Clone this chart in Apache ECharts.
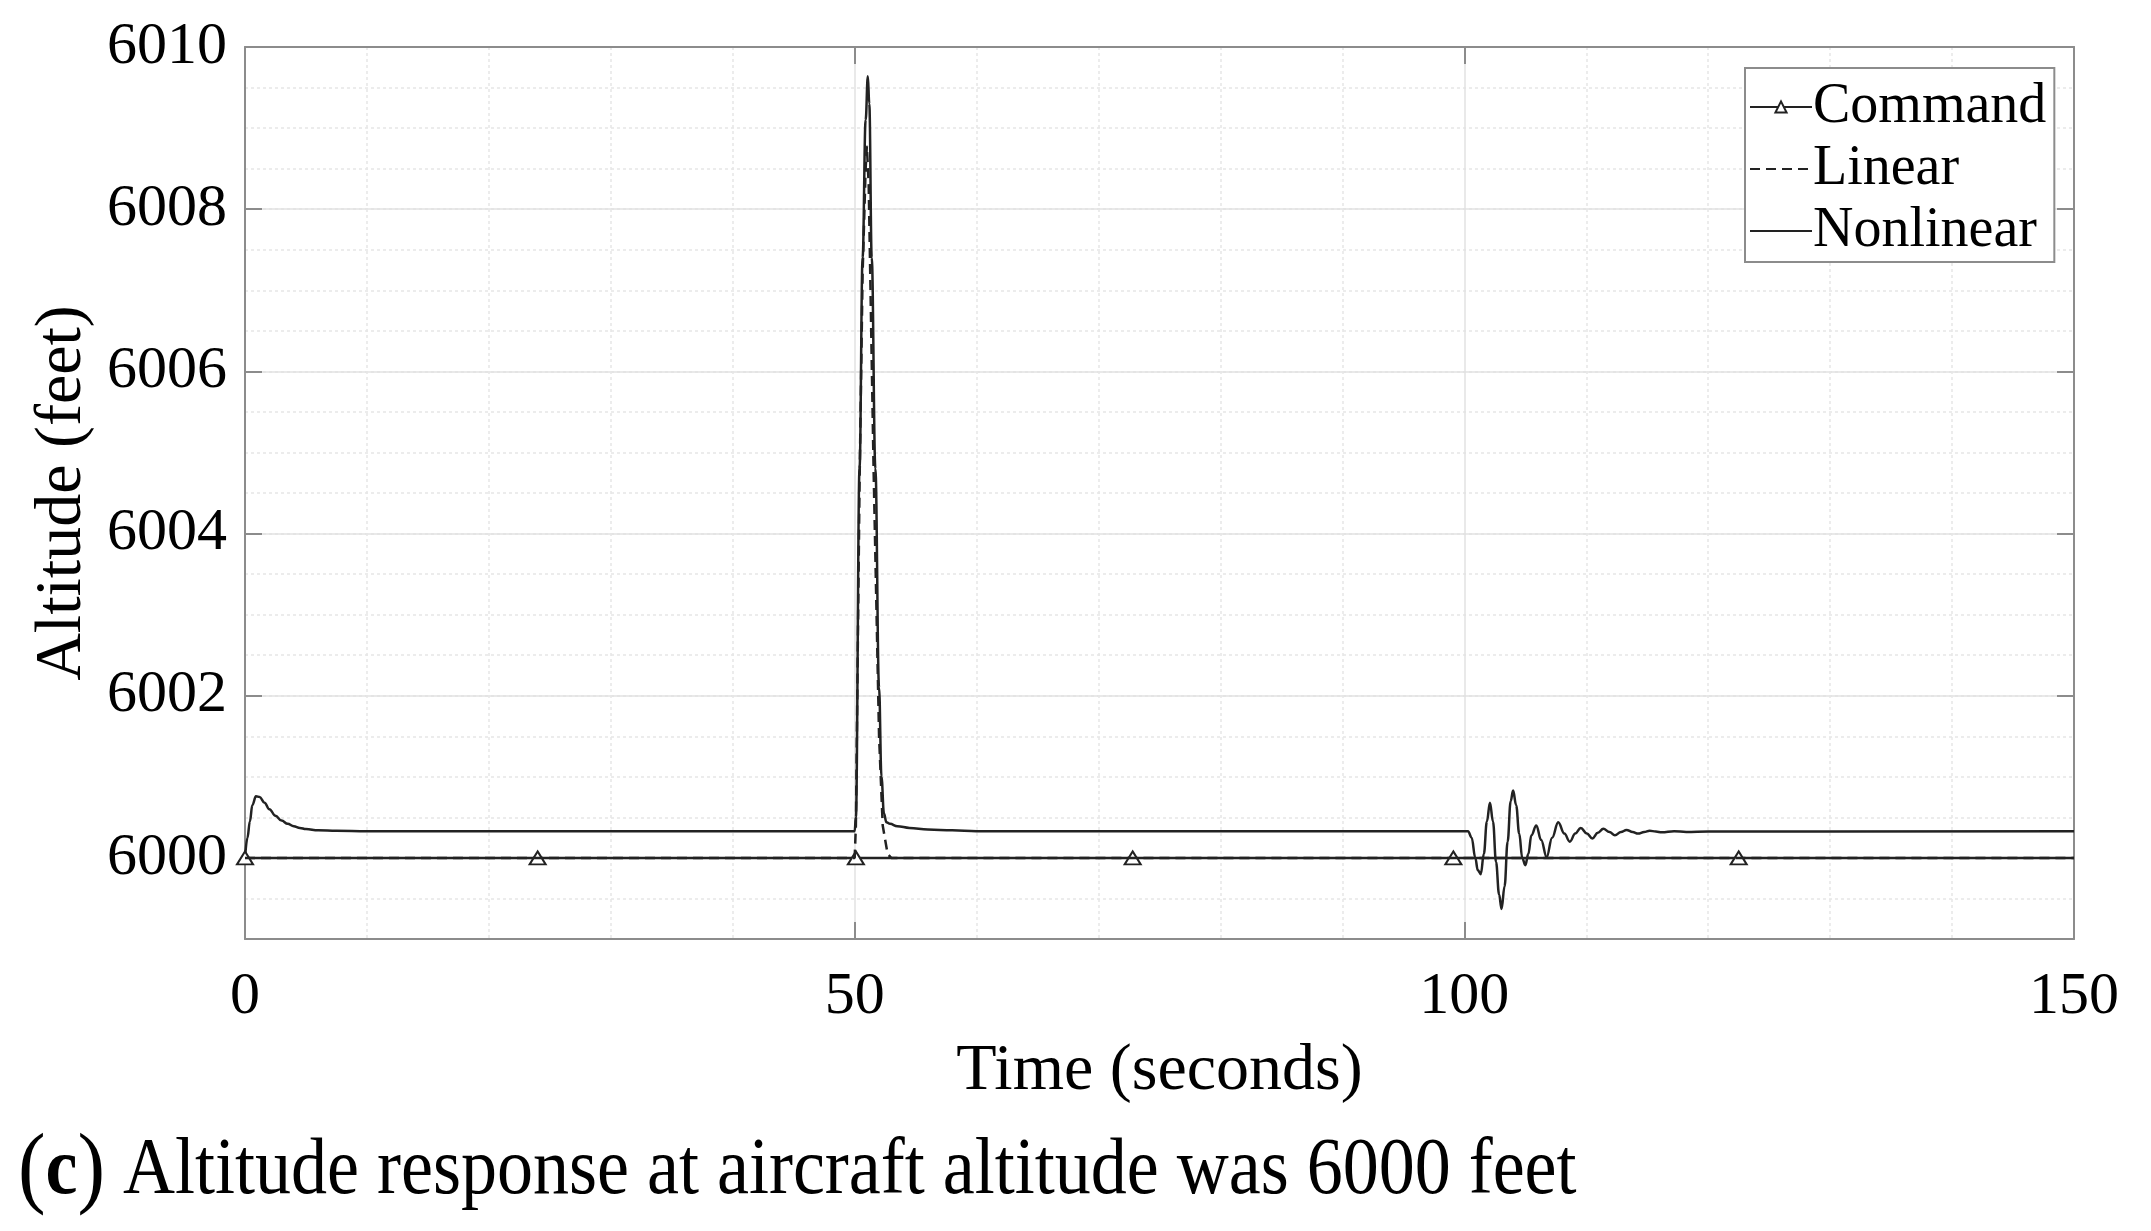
<!DOCTYPE html>
<html>
<head>
    <meta charset="utf-8">
    <title>Altitude response</title>
    <script src="https://cdn.jsdelivr.net/npm/echarts@6/dist/echarts.min.js"></script>
    <style>
        html, body { margin: 0; padding: 0; background: #fff; }
        #chart { width: 2151px; height: 1231px; }
    </style>
</head>
<body>
<div id="chart"></div>
<script type="text/javascript">
    // values (time in seconds, altitude in feet)
    var xTicks = [0, 50, 100, 150];
    var yMajorTicks = [6000, 6002, 6004, 6006, 6008, 6010];

    var commandTime = [0, 24, 50.1, 72.8, 99.1, 122.5, 150];
    var commandAlt = [6000, 6000, 6000, 6000, 6000, 6000, 6000];
    var commandMarker = [true, true, true, true, true, true, false];

    var linearTime = [0, 50.0, 50.1, 50.4, 50.65, 50.9, 51.0, 51.15, 51.55, 52.0, 52.3, 52.7, 53.0, 150];
    var linearAlt = [6000, 6000, 6000.4, 6004.6, 6007.2, 6008.5, 6008.78, 6008.3, 6004.8, 6001.5, 6000.4, 6000.05, 6000, 6000];

    var nonlinearTime = [0, 0.2, 0.4, 0.6, 0.9, 1.2, 1.6, 2.0, 2.5, 3.0, 3.5, 4.0, 4.5, 5.0, 6.0, 7.5, 10,
        50.0, 50.1, 50.4, 50.65, 50.9, 51.08, 51.2, 51.4, 51.7, 52.0, 52.2, 52.4, 52.6, 52.9, 53.5, 54.5, 56, 58, 60,
        100.3, 100.6, 100.9, 101.1, 101.35, 101.6, 101.85, 102.1, 102.35, 102.6, 102.85, 103.05, 103.3, 103.55,
        103.8, 104.0, 104.25, 104.5, 104.75, 105.0, 105.25, 105.5, 105.9, 106.3, 106.75, 107.2, 107.7, 108.2,
        108.65, 109.1, 109.55, 110.05, 110.5, 110.95, 111.4, 111.9, 112.35, 112.85, 113.3, 113.8, 114.25, 114.75,
        115.2, 115.7, 116.2, 117.2, 118.2, 120, 150];
    var nonlinearAlt = [6000, 6000.25, 6000.45, 6000.65, 6000.76, 6000.75, 6000.68, 6000.6, 6000.52, 6000.46, 6000.42, 6000.39, 6000.37, 6000.355, 6000.34, 6000.335, 6000.33,
        6000.33, 6000.5, 6004.8, 6007.4, 6009.1, 6009.64, 6009.3, 6007.4, 6004.8, 6002.1, 6001.0, 6000.55, 6000.44, 6000.42, 6000.39, 6000.37, 6000.35, 6000.34, 6000.33,
        6000.33, 6000.25, 6000.0, 5999.85, 5999.8, 6000.05, 6000.45, 6000.68, 6000.45, 5999.95, 5999.55, 5999.37, 5999.65, 6000.2,
        6000.7, 6000.83, 6000.65, 6000.3, 6000.0, 5999.91, 6000.05, 6000.28, 6000.4, 6000.22, 6000.01, 6000.25, 6000.44, 6000.3,
        6000.2, 6000.3, 6000.37, 6000.3, 6000.24, 6000.31, 6000.36, 6000.32, 6000.28, 6000.32, 6000.345, 6000.32, 6000.3, 6000.32,
        6000.335, 6000.325, 6000.315, 6000.33, 6000.32, 6000.325, 6000.33];

    function pairs(xs, ys) {
        return xs.map(function (x, i) { return [x, ys[i]]; });
    }

    var serif = 'Liberation Serif';
    var axisGray = '#8c8c8c';
    var lineBlack = '#222';

    var myChart = echarts.init(document.getElementById('chart'));

    var commandData = commandTime.map(function (t, i) {
        return commandMarker[i] ? { value: [t, commandAlt[i]] } : { value: [t, commandAlt[i]], symbol: 'none' };
    });

    myChart.setOption({
        animation: false,
        backgroundColor: '#fff',
        grid: { left: 245, right: 77, top: 47, bottom: 292, show: false },
        legend: {
            data: [
                { name: 'Command' },
                { name: 'Linear', itemStyle: { opacity: 0 } },
                { name: 'Nonlinear', itemStyle: { opacity: 0 } }
            ],
            orient: 'vertical',
            left: 1745,
            top: 68,
            padding: [8, 8, 0, 4],
            itemGap: 0,
            itemWidth: 62,
            itemHeight: 14,
            backgroundColor: '#fff',
            borderColor: axisGray,
            borderWidth: 2,
            borderRadius: 0,
            textStyle: { fontFamily: serif, fontSize: 56, color: '#000', lineHeight: 62, padding: [0, 0, 0, -4] }
        },
        xAxis: [{
            type: 'value', min: 0, max: 150, interval: 50, position: 'bottom',
            name: 'Time (seconds)', nameLocation: 'middle', nameGap: 100,
            nameTextStyle: { fontFamily: serif, fontSize: 66, color: '#000' },
            axisLine: { show: true, onZero: false, lineStyle: { color: axisGray, width: 2 } },
            axisTick: { show: true, inside: true, length: 17, lineStyle: { color: axisGray, width: 2 } },
            axisLabel: {
                fontFamily: serif, fontSize: 60, color: '#000', margin: 28,
                formatter: function (v) { return xTicks.indexOf(v) >= 0 ? String(v) : ''; }
            },
            splitLine: { show: true, lineStyle: { color: '#e2e2e2', width: 1.5 } },
            minorTick: { show: false, splitNumber: 5 },
            minorSplitLine: { show: true, lineStyle: { color: '#e6e6e6', width: 1.5, type: [3, 3] } }
        }, {
            type: 'value', min: 0, max: 150, interval: 50, position: 'top',
            axisLine: { show: true, onZero: false, lineStyle: { color: axisGray, width: 2 } },
            axisTick: { show: true, inside: true, length: 17, lineStyle: { color: axisGray, width: 2 } },
            axisLabel: { show: false },
            splitLine: { show: false }
        }],
        yAxis: [{
            type: 'value', min: 5999, max: 6010, interval: 0.5, position: 'left',
            name: 'Altitude (feet)', nameLocation: 'middle', nameGap: 146,
            nameTextStyle: { fontFamily: serif, fontSize: 66, color: '#000' },
            axisLine: { show: true, onZero: false, lineStyle: { color: axisGray, width: 2 } },
            axisTick: { show: false },
            axisLabel: {
                fontFamily: serif, fontSize: 60, color: '#000', margin: 18,
                formatter: function (v) { return yMajorTicks.indexOf(Math.round(v * 1000) / 1000) >= 0 ? String(v) : ''; }
            },
            splitLine: { show: true, lineStyle: { color: '#e6e6e6', width: 1.5, type: [3, 3] } }
        }, {
            type: 'value', min: 5999, max: 6010, splitNumber: 5, position: 'left',
            axisLine: { show: false },
            axisTick: { show: true, inside: true, length: 17, lineStyle: { color: axisGray, width: 2 } },
            axisLabel: { show: false },
            splitLine: { show: true, lineStyle: { color: '#e2e2e2', width: 1.5 } }
        }, {
            type: 'value', min: 5999, max: 6010, splitNumber: 5, position: 'right',
            axisLine: { show: true, onZero: false, lineStyle: { color: axisGray, width: 2 } },
            axisTick: { show: true, inside: true, length: 17, lineStyle: { color: axisGray, width: 2 } },
            axisLabel: { show: false },
            splitLine: { show: false }
        }],
        graphic: [{
            type: 'text',
            x: 18,
            y: 1172,
            scaleX: 0.9,
            style: {
                text: '{p|(}{b|c}{p|)} Altitude response at aircraft altitude was 6000 feet',
                fontFamily: serif,
                fontSize: 80,
                fill: '#000',
                verticalAlign: 'middle',
                rich: {
                    p: { fontFamily: serif, fontSize: 92, fill: '#000' },
                    b: { fontFamily: serif, fontSize: 80, fontWeight: 'bold', fill: '#000' }
                }
            }
        }],
        series: [{
            name: 'Command',
            type: 'line',
            data: commandData,
            symbol: 'triangle',
            symbolSize: [16, 13],
            showAllSymbol: true,
            itemStyle: { color: '#fff', borderColor: lineBlack, borderWidth: 2 },
            lineStyle: { color: lineBlack, width: 2.5 },
            z: 3
        }, {
            name: 'Nonlinear',
            type: 'line',
            data: pairs(nonlinearTime, nonlinearAlt),
            symbol: 'none',
            smooth: 0.4,
            smoothMonotone: 'x',
            itemStyle: { color: lineBlack },
            lineStyle: { color: lineBlack, width: 2.5 },
            z: 2
        }, {
            name: 'Linear',
            type: 'line',
            data: pairs(linearTime, linearAlt),
            symbol: 'none',
            itemStyle: { color: lineBlack },
            lineStyle: { color: lineBlack, width: 2.5, type: [10, 6] },
            z: 4
        }]
    });
</script>
</body>
</html>
